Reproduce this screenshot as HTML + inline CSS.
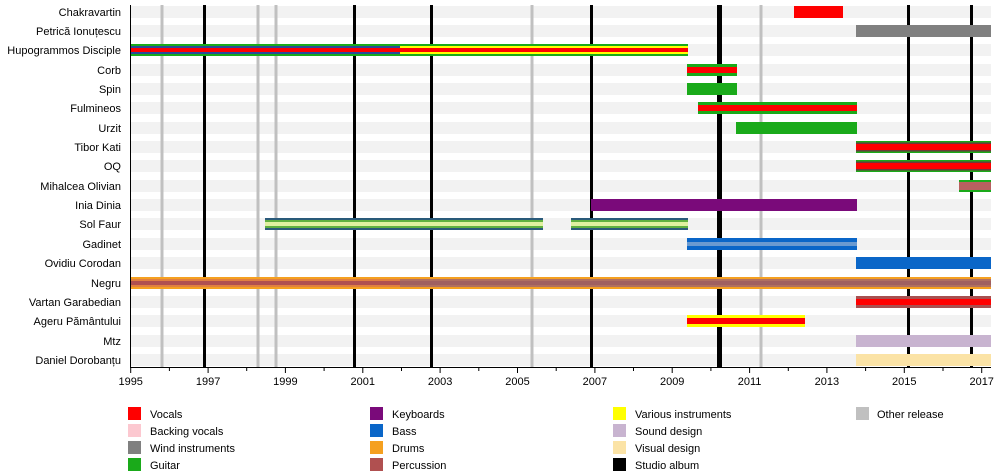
<!DOCTYPE html>
<html><head><meta charset="utf-8"><style>
html,body{margin:0;padding:0;background:#fff;}
svg{display:block;font-family:"Liberation Sans",sans-serif;}
</style></head><body>
<svg width="1000" height="475" xmlns="http://www.w3.org/2000/svg">
<!-- row stripes -->
<g fill="#f2f2f2">
<rect x="131" y="6" width="860" height="12"/>
<rect x="131" y="25" width="860" height="12"/>
<rect x="131" y="44" width="860" height="12"/>
<rect x="131" y="64" width="860" height="12"/>
<rect x="131" y="83" width="860" height="12"/>
<rect x="131" y="102" width="860" height="12"/>
<rect x="131" y="122" width="860" height="12"/>
<rect x="131" y="141" width="860" height="12"/>
<rect x="131" y="160" width="860" height="12"/>
<rect x="131" y="180" width="860" height="12"/>
<rect x="131" y="199" width="860" height="12"/>
<rect x="131" y="218" width="860" height="12"/>
<rect x="131" y="238" width="860" height="12"/>
<rect x="131" y="257" width="860" height="12"/>
<rect x="131" y="277" width="860" height="12"/>
<rect x="131" y="296" width="860" height="12"/>
<rect x="131" y="315" width="860" height="12"/>
<rect x="131" y="335" width="860" height="12"/>
<rect x="131" y="354" width="860" height="12"/>
</g>
<!-- other releases -->
<g stroke="#c0c0c0" stroke-width="3">
<line x1="162" y1="5" x2="162" y2="368"/>
<line x1="258" y1="5" x2="258" y2="368"/>
<line x1="276" y1="5" x2="276" y2="368"/>
<line x1="532" y1="5" x2="532" y2="368"/>
<line x1="761" y1="5" x2="761" y2="368"/>
</g>
<!-- studio albums -->
<g stroke="#000" stroke-width="3">
<line x1="204.5" y1="5" x2="204.5" y2="368"/>
<line x1="354.5" y1="5" x2="354.5" y2="368"/>
<line x1="431.5" y1="5" x2="431.5" y2="368"/>
<line x1="591.5" y1="5" x2="591.5" y2="368"/>
<line x1="719.5" y1="5" x2="719.5" y2="368" stroke-width="5"/>
<line x1="908.5" y1="5" x2="908.5" y2="368"/>
<line x1="971.5" y1="5" x2="971.5" y2="368"/>
</g>
<!-- bars -->
<rect x="794" y="6" width="49" height="12" fill="#ff0000"/>
<rect x="856" y="25" width="135" height="12" fill="#808080"/>
<!-- Hupogrammos -->
<rect x="131" y="44" width="557" height="12" fill="#1aaa1a"/>
<rect x="131" y="46" width="269" height="8" fill="#2a4a9a"/>
<rect x="400" y="46" width="288" height="8" fill="#ffff00"/>
<rect x="131" y="48" width="557" height="4" fill="#ff0000"/>
<!-- Corb -->
<rect x="687" y="64" width="50" height="12" fill="#1aaa1a"/>
<rect x="687" y="67" width="50" height="6" fill="#ff0000"/>
<rect x="687" y="83" width="50" height="12" fill="#1aaa1a"/>
<rect x="698" y="102" width="159" height="12" fill="#1aaa1a"/>
<rect x="698" y="105" width="159" height="6" fill="#ff0000"/>
<rect x="736" y="122" width="121" height="12" fill="#1aaa1a"/>
<!-- Tibor, OQ -->
<rect x="856" y="141" width="135" height="12" fill="#1aaa1a"/>
<rect x="856" y="142.5" width="135" height="9" fill="#6a3a3a"/>
<rect x="856" y="144" width="135" height="6" fill="#ff0000"/>
<rect x="856" y="160" width="135" height="12" fill="#1aaa1a"/>
<rect x="856" y="161.5" width="135" height="9" fill="#6a3a3a"/>
<rect x="856" y="163" width="135" height="6" fill="#ff0000"/>
<rect x="959" y="180" width="32" height="12" fill="#1aaa1a"/>
<rect x="959" y="182" width="32" height="8" fill="#b86060"/>
<rect x="591" y="199" width="266" height="12" fill="#7a0a7a"/>
<!-- Sol Faur -->
<g>
<rect x="265" y="218" width="278" height="12" fill="#2a5a7a"/>
<rect x="265" y="220" width="278" height="8" fill="#60b040"/>
<rect x="265" y="222" width="278" height="4" fill="#e0f0a0"/>
<rect x="571" y="218" width="117" height="12" fill="#2a5a7a"/>
<rect x="571" y="220" width="117" height="8" fill="#60b040"/>
<rect x="571" y="222" width="117" height="4" fill="#e0f0a0"/>
</g>
<rect x="687" y="238" width="170" height="12" fill="#0a66c8"/>
<rect x="687" y="242" width="170" height="4" fill="#6a9ad0"/>
<rect x="856" y="257" width="135" height="12" fill="#0a66c8"/>
<!-- Negru -->
<rect x="131" y="277" width="860" height="12" fill="#f5a020"/>
<rect x="131" y="279" width="860" height="8" fill="#e08040"/>
<rect x="131" y="281" width="269" height="4" fill="#b05050"/>
<rect x="400" y="279" width="591" height="8" fill="#b07060"/>
<rect x="400" y="281" width="591" height="4" fill="#a06060"/>
<rect x="856" y="296" width="135" height="12" fill="#a85050"/>
<rect x="856" y="299" width="135" height="6" fill="#ff0000"/>
<rect x="687" y="315" width="118" height="12" fill="#ffff00"/>
<rect x="687" y="318" width="118" height="6" fill="#ff0000"/>
<rect x="856" y="335" width="135" height="12" fill="#c8b4d0"/>
<rect x="856" y="354" width="135" height="12" fill="#fbe3a6"/>
<!-- axes -->
<line x1="130.5" y1="5" x2="130.5" y2="368" stroke="#000"/>
<line x1="130" y1="367.5" x2="991" y2="367.5" stroke="#000"/>
<g stroke="#000">
<line x1="130.7" y1="368" x2="130.7" y2="373"/><line x1="169.4" y1="368" x2="169.4" y2="371"/>
<line x1="208.1" y1="368" x2="208.1" y2="373"/><line x1="246.7" y1="368" x2="246.7" y2="371"/>
<line x1="285.4" y1="368" x2="285.4" y2="373"/><line x1="324.1" y1="368" x2="324.1" y2="371"/>
<line x1="362.8" y1="368" x2="362.8" y2="373"/><line x1="401.5" y1="368" x2="401.5" y2="371"/>
<line x1="440.1" y1="368" x2="440.1" y2="373"/><line x1="478.8" y1="368" x2="478.8" y2="371"/>
<line x1="517.5" y1="368" x2="517.5" y2="373"/><line x1="556.2" y1="368" x2="556.2" y2="371"/>
<line x1="594.9" y1="368" x2="594.9" y2="373"/><line x1="633.5" y1="368" x2="633.5" y2="371"/>
<line x1="672.2" y1="368" x2="672.2" y2="373"/><line x1="710.9" y1="368" x2="710.9" y2="371"/>
<line x1="749.6" y1="368" x2="749.6" y2="373"/><line x1="788.3" y1="368" x2="788.3" y2="371"/>
<line x1="826.9" y1="368" x2="826.9" y2="373"/><line x1="865.6" y1="368" x2="865.6" y2="371"/>
<line x1="904.3" y1="368" x2="904.3" y2="373"/><line x1="943" y1="368" x2="943" y2="371"/>
<line x1="981.7" y1="368" x2="981.7" y2="373"/>
</g>
<g font-size="11" fill="#000" text-anchor="middle">
<text x="130.7" y="385">1995</text><text x="208.1" y="385">1997</text><text x="285.4" y="385">1999</text>
<text x="362.8" y="385">2001</text><text x="440.1" y="385">2003</text><text x="517.5" y="385">2005</text>
<text x="594.9" y="385">2007</text><text x="672.2" y="385">2009</text><text x="749.6" y="385">2011</text>
<text x="826.9" y="385">2013</text><text x="904.3" y="385">2015</text><text x="981.7" y="385">2017</text>
</g>
<g font-size="11" fill="#000" text-anchor="end">
<text x="121" y="16">Chakravartin</text>
<text x="121" y="35">Petrică Ionuțescu</text>
<text x="121" y="54">Hupogrammos Disciple</text>
<text x="121" y="74">Corb</text>
<text x="121" y="93">Spin</text>
<text x="121" y="112">Fulmineos</text>
<text x="121" y="132">Urzit</text>
<text x="121" y="151">Tibor Kati</text>
<text x="121" y="170">OQ</text>
<text x="121" y="190">Mihalcea Olivian</text>
<text x="121" y="209">Inia Dinia</text>
<text x="121" y="228">Sol Faur</text>
<text x="121" y="248">Gadinet</text>
<text x="121" y="267">Ovidiu Corodan</text>
<text x="121" y="287">Negru</text>
<text x="121" y="306">Vartan Garabedian</text>
<text x="121" y="325">Ageru Pământului</text>
<text x="121" y="345">Mtz</text>
<text x="121" y="364">Daniel Dorobanțu</text>
</g>
<!-- legend -->
<g>
<rect x="128" y="407" width="13" height="13" fill="#ff0000"/>
<rect x="128" y="424" width="13" height="13" fill="#fcc8d0"/>
<rect x="128" y="441" width="13" height="13" fill="#808080"/>
<rect x="128" y="458" width="13" height="13" fill="#1aaa1a"/>
<rect x="370" y="407" width="13" height="13" fill="#7a0a7a"/>
<rect x="370" y="424" width="13" height="13" fill="#0a66c8"/>
<rect x="370" y="441" width="13" height="13" fill="#f5a020"/>
<rect x="370" y="458" width="13" height="13" fill="#b05050"/>
<rect x="613" y="407" width="13" height="13" fill="#ffff00"/>
<rect x="613" y="424" width="13" height="13" fill="#c8b4d0"/>
<rect x="613" y="441" width="13" height="13" fill="#fbe3a6"/>
<rect x="613" y="458" width="13" height="13" fill="#000000"/>
<rect x="856" y="407" width="13" height="13" fill="#c0c0c0"/>
</g>
<g font-size="11" fill="#000">
<text x="150" y="418">Vocals</text>
<text x="150" y="435">Backing vocals</text>
<text x="150" y="452">Wind instruments</text>
<text x="150" y="469">Guitar</text>
<text x="392" y="418">Keyboards</text>
<text x="392" y="435">Bass</text>
<text x="392" y="452">Drums</text>
<text x="392" y="469">Percussion</text>
<text x="635" y="418">Various instruments</text>
<text x="635" y="435">Sound design</text>
<text x="635" y="452">Visual design</text>
<text x="635" y="469">Studio album</text>
<text x="877" y="418">Other release</text>
</g>
</svg>
</body></html>
